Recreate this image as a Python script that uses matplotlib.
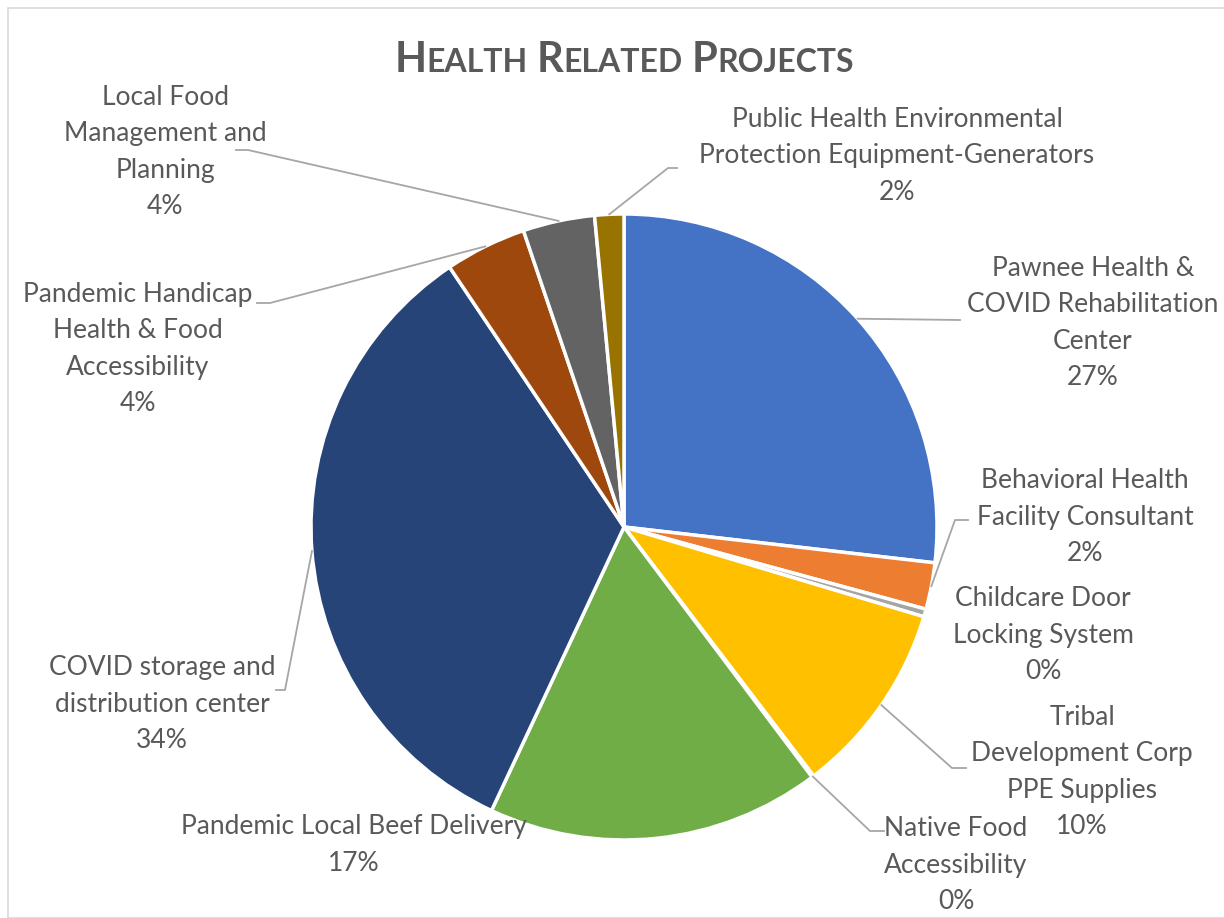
import numpy as np
import matplotlib
matplotlib.use("Agg")
import matplotlib.pyplot as plt
from matplotlib.patches import Rectangle

# slices, clockwise from 12 o'clock
projects = [
    "Pawnee Health &\nCOVID Rehabilitation\nCenter",
    "Behavioral Health\nFacility Consultant",
    "Childcare Door\nLocking System",
    "Tribal\nDevelopment Corp\nPPE Supplies",
    "Native Food\nAccessibility",
    "Pandemic Local Beef Delivery",
    "COVID storage and\ndistribution center",
    "Pandemic Handicap\nHealth & Food\nAccessibility",
    "Local Food\nManagement and\nPlanning",
    "Public Health Environmental\nProtection Equipment-Generators",
]
shares = [26.8, 2.4, 0.4, 10.0, 0.1, 17.2, 33.6, 4.2, 3.7, 1.5]
colors = ["#4472C4", "#ED7D31", "#A5A5A5", "#FFC000", "#5B9BD5",
          "#70AD47", "#264478", "#9E480E", "#636363", "#997300"]

W, H = 1224, 918
TXT = "#595959"
LINE = "#A6A6A6"
FONT = "Lato"

def py(y):
    return H - y

fig = plt.figure(figsize=(W / 100, H / 100), dpi=100)
ax = fig.add_axes([0, 0, 1, 1])

cx, cy, R = 624, 527, 313
wedges, _ = ax.pie(shares, colors=colors, startangle=90, counterclock=False,
                   center=(cx, py(cy)), radius=R,
                   wedgeprops=dict(edgecolor="white", linewidth=2.5))
ax.set_xlim(0, W)
ax.set_ylim(0, H)
ax.set_aspect("equal")
ax.axis("off")

# label layout: centre of text block, leader path (elbow, end) or None
layout = [
    ((1093, 323), [(960, 320)]),
    ((1085, 517), [(955, 520), (968, 520)]),
    ((1043, 635), None),
    ((1082, 772), [(952, 768), (966, 768)]),
    ((956, 865), [(870, 831), (884, 831)]),
    ((354, 845), None),
    ((162, 704), [(285, 690), (276, 690)]),
    ((138, 349), [(270, 303), (257, 303)]),
    ((165, 152), [(248, 150), (236, 150)]),
    ((897, 156), [(668, 168), (677, 168)]),
]

for w, name, val, (pos, path) in zip(wedges, projects, shares, layout):
    ax.text(pos[0], py(pos[1]), f"{name}\n{val:.0f}%",
            ha="center", va="center",
            fontsize=19, color=TXT, family=FONT, linespacing=1.58)
    if path:
        mid = np.deg2rad((w.theta1 + w.theta2) / 2)
        x0, y0 = cx + R * np.cos(mid), py(cy) + R * np.sin(mid)
        xs = [x0] + [p[0] for p in path]
        ys = [y0] + [py(p[1]) for p in path]
        ax.plot(xs, ys, color=LINE, lw=1.3)

# small-caps title
renderer = fig.canvas.get_renderer()
parts = []
for word in "Health Related Projects".split():
    parts.append((word[0].upper(), 30))
    parts.append((word[1:].upper(), 23))
    parts.append((" ", 23))
parts = parts[:-1]
objs = []
for s, fs in parts:
    t = fig.text(0, 0, s, fontsize=fs, fontweight="bold", color=TXT, family=FONT,
                 ha="left", va="baseline")
    objs.append(t)
widths = []
for t in objs:
    if t.get_text() == " ":
        widths.append(9)
    else:
        widths.append(t.get_window_extent(renderer).width)
x = 624 - sum(widths) / 2
for t, wd in zip(objs, widths):
    t.set_position((x / W, py(72) / H))
    x += wd

fig.patches.append(Rectangle((8 / W, 0), 1.2, py(8) / H, transform=fig.transFigure,
                             fill=False, edgecolor="#D9D9D9", lw=1.2))

fig.savefig("out.png", dpi=100, facecolor="white")
